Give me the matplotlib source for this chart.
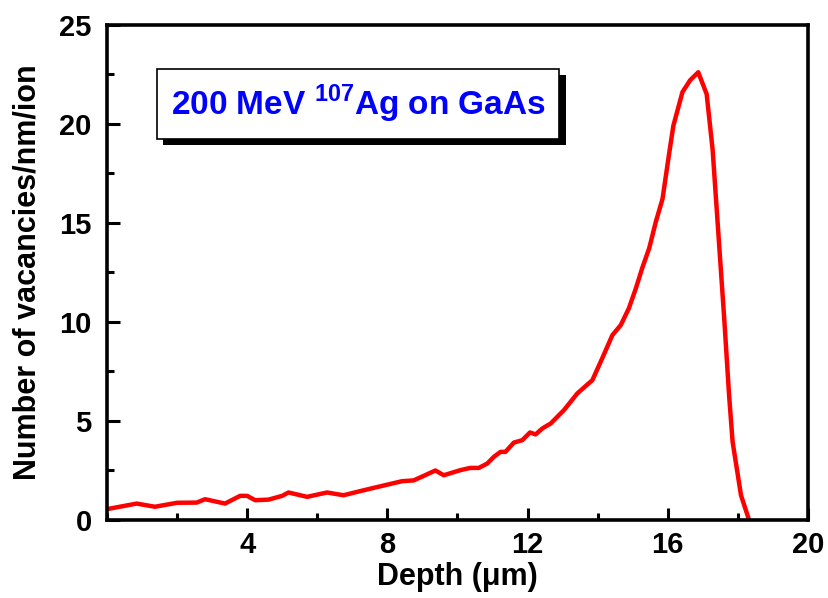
import matplotlib
matplotlib.use("Agg")
import matplotlib.pyplot as plt
import matplotlib.patheffects as pe
from matplotlib.ticker import MultipleLocator

plt.rcParams['font.family'] = ['Liberation Sans', 'DejaVu Sans']
plt.rcParams['font.weight'] = 'bold'
plt.rcParams['mathtext.fontset'] = 'custom'
plt.rcParams['mathtext.rm'] = 'Liberation Sans:bold'
plt.rcParams['mathtext.bf'] = 'Liberation Sans:bold'

# --- dane ---
depth = [0.0, 0.85, 1.37, 2.0, 2.56, 2.8, 3.37, 3.8, 4.0, 4.23, 4.61, 5.0, 5.18,
         5.71, 6.28, 6.75, 7.32, 7.94, 8.42, 8.75, 9.04, 9.37, 9.61, 10.09, 10.37,
         10.61, 10.85, 11.04, 11.23, 11.37, 11.61, 11.85, 12.07, 12.23, 12.42,
         12.66, 13.04, 13.42, 13.85, 14.13, 14.42, 14.66, 14.89, 15.09, 15.28,
         15.47, 15.66, 15.85, 16.04, 16.16, 16.42, 16.64, 16.87, 17.11, 17.28,
         17.47, 17.61, 17.75, 17.85, 18.09, 18.32]
vacancies = [0.55, 0.83, 0.67, 0.87, 0.88, 1.05, 0.83, 1.22, 1.22, 1.0, 1.03, 1.22,
             1.39, 1.17, 1.39, 1.25, 1.5, 1.76, 1.96, 2.0, 2.23, 2.5, 2.26, 2.52,
             2.63, 2.63, 2.85, 3.19, 3.44, 3.44, 3.91, 4.03, 4.42, 4.32, 4.62, 4.87,
             5.55, 6.39, 7.06, 8.16, 9.33, 9.84, 10.68, 11.69, 12.76, 13.71, 15.05,
             16.2, 18.5, 19.9, 21.6, 22.2, 22.6, 21.5, 18.7, 13.8, 10.2, 6.3, 3.95,
             1.25, 0.0]

x_major = [4, 8, 12, 16, 20]

# --- rysunek ---
fig = plt.figure(figsize=(8.29, 5.98), dpi=100)
ax = fig.add_axes([0.129, 0.1304, 0.8456, 0.8283])

ax.plot(depth, vacancies, color='#ff0000', lw=3.2)

ax.set_xlim(0, 20)
ax.set_ylim(0, 25)
ax.set_xticks(x_major)
ax.xaxis.set_minor_locator(MultipleLocator(2))
ax.yaxis.set_major_locator(MultipleLocator(5))
ax.yaxis.set_minor_locator(MultipleLocator(2.5))

for s in ax.spines.values():
    s.set_linewidth(2.6)

ax.tick_params(which='both', direction='in', width=2.2, labelsize=21)
ax.tick_params(which='major', length=9)
ax.tick_params(which='minor', length=5)
ax.tick_params(axis='y', which='major', pad=11)
ax.tick_params(axis='x', which='major', pad=8)

ax.set_xlabel('Depth (\u03bcm)', fontsize=22, fontweight='bold', labelpad=2)
ax.set_ylabel('Number of vacancies/nm/ion', fontsize=22, fontweight='bold', labelpad=12)

txt = ax.text(0.358, 0.84, r'200 MeV $^{\mathbf{107}}$Ag on GaAs',
              transform=ax.transAxes, ha='center', va='center',
              fontsize=24, fontweight='bold', color='#0000ff',
              bbox=dict(boxstyle='square,pad=0.42', fc='white', ec='black', lw=1.2))
txt.get_bbox_patch().set_path_effects([
    pe.SimplePatchShadow(offset=(4.5, -4.5), shadow_rgbFace='black', alpha=1.0),
    pe.Normal()])

fig.savefig('out.png', dpi=100)
